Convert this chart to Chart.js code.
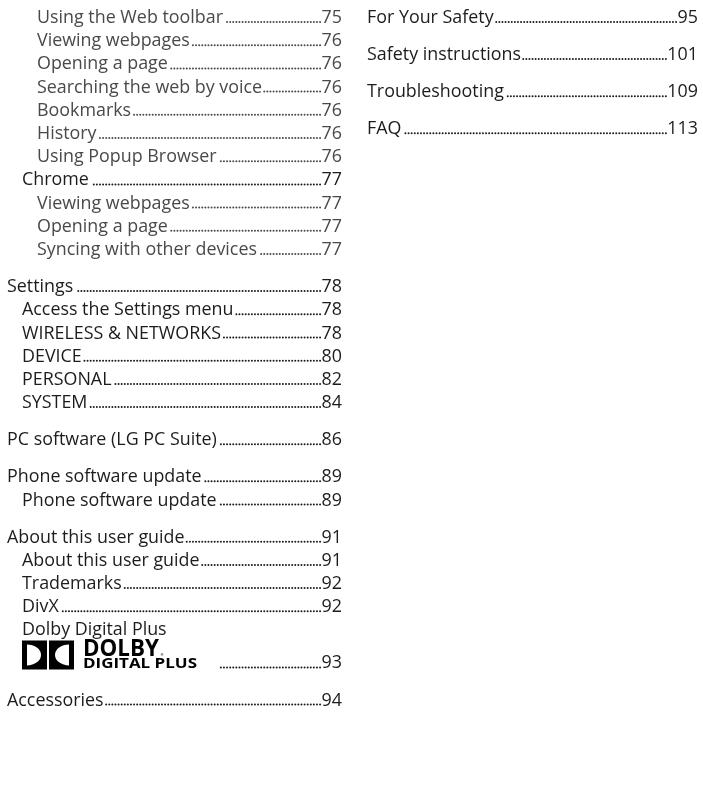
<!DOCTYPE html>
<html>
<head>
<meta charset="utf-8">
<script src="https://cdn.jsdelivr.net/npm/chart.js@4.4.0/dist/chart.umd.min.js"></script>
<style>
    html, body { margin: 0; background: #fff; }
    #toc-wrap { width: 703px; height: 795px; }
</style>
</head>
<body>
<div id="toc-wrap"><canvas id="toc"></canvas></div>
<script>
// left column of the contents page (level 0 = chapter, 1 = section, 2 = sub-section)
const leftTitles = [
    'Using the Web toolbar', 'Viewing webpages', 'Opening a page', 'Searching the web by voice',
    'Bookmarks', 'History', 'Using Popup Browser', 'Chrome', 'Viewing webpages', 'Opening a page',
    'Syncing with other devices', 'Settings', 'Access the Settings menu', 'WIRELESS & NETWORKS',
    'DEVICE', 'PERSONAL', 'SYSTEM', 'PC software (LG PC Suite)', 'Phone software update',
    'Phone software update', 'About this user guide', 'About this user guide', 'Trademarks',
    'DivX', 'Dolby Digital Plus', null, 'Accessories'
];
const leftPages = [75, 76, 76, 76, 76, 76, 76, 77, 77, 77, 77, 78, 78, 78, 80, 82, 84, 86, 89, 89, 91, 91, 92, 92, null, 93, 94];
const leftLevels = [2, 2, 2, 2, 2, 2, 2, 1, 2, 2, 2, 0, 1, 1, 1, 1, 1, 0, 0, 1, 0, 1, 1, 1, 1, 1, 0];

// right column
const rightTitles = ['For Your Safety', 'Safety instructions', 'Troubleshooting', 'FAQ'];
const rightPages = [95, 101, 109, 113];
const rightLevels = [0, 0, 0, 0];

// text of the logo line (the null title above)
const logoWords = ['DOLBY', 'DIGITAL PLUS'];

// line positions: one unit per line, chapters get extra space, the logo line is taller
function linePositions(titles, levels) {
    const out = [];
    let y = 0;
    titles.forEach((t, i) => {
        if (i > 0) {
            y += 1;
            if (levels[i] === 0) y += 0.6;
            if (t === null) y += 0.42;
        }
        out.push(y);
    });
    return out;
}

const leftY = linePositions(leftTitles, leftLevels);
const rightY = linePositions(rightTitles, rightLevels);

const LINE = 23.2;        // px per line unit
const COL = 360;          // px per column unit
const indent = [0, 15, 30];
const colWidth = [335, 331];
const dark = '#1e1b1c';
const grey = '#4a4849';
const FONT = '19px "Open Sans"';

let sx = 1;

const tocText = {
    id: 'tocText',
    afterDatasetsDraw(chart) {
        const ctx = chart.ctx;
        ctx.save();
        ctx.font = FONT;
        sx = 186 / ctx.measureText('Using the Web toolbar').width;
        chart.data.datasets.forEach((ds, di) => {
            const meta = chart.getDatasetMeta(di);
            meta.data.forEach((el, i) => {
                const title = ds.titles[i];
                const page = ds.pages[i];
                const lvl = ds.levels[i];
                const x = el.x + indent[lvl];
                const y = el.y;
                const right = el.x + colWidth[di];
                const color = lvl === 2 ? grey : dark;
                ctx.fillStyle = color;
                let textEnd;
                if (title === null) {
                    textEnd = drawLogo(ctx, x, y + 1);
                } else {
                    drawScaled(ctx, title, x, y, FONT, sx);
                    ctx.font = FONT;
                    textEnd = x + ctx.measureText(title).width * sx;
                }
                if (page === null) return;
                ctx.fillStyle = color;
                ctx.font = FONT;
                const ps = String(page);
                const pw = ctx.measureText(ps).width * sx;
                drawScaled(ctx, ps, right - pw, y, FONT, sx);
                // dot leaders
                const pitch = 3.1;
                const end = right - pw - 1.5;
                const start = textEnd + 2;
                const n = Math.floor((end - start) / pitch);
                for (let k = 0; k <= n; k++) {
                    const dx = end - k * pitch;
                    ctx.beginPath();
                    ctx.arc(dx, y - 1.0, 1.0, 0, Math.PI * 2);
                    ctx.fill();
                }
            });
        });
        ctx.restore();
    }
};

function drawScaled(ctx, text, x, y, font, scale) {
    ctx.save();
    ctx.font = font;
    ctx.translate(x, y);
    ctx.scale(scale, 1);
    ctx.textBaseline = 'alphabetic';
    ctx.fillText(text, 0, 0);
    ctx.restore();
}

function fitText(ctx, text, x, y, font, width) {
    ctx.font = font;
    const s = width / ctx.measureText(text).width;
    drawScaled(ctx, text, x, y, font, s);
}

function drawLogo(ctx, x, base) {
    const h = 29, w = 25, gap = 2;
    const top = base - h;
    const cy = top + h / 2;
    ctx.fillStyle = '#000';
    // left half: block with a half-round counter opening to the right
    ctx.beginPath();
    ctx.rect(x, top, w, h);
    ctx.moveTo(x + 5, top + 4);
    ctx.ellipse(x + 5, cy, 14, h / 2 - 4, 0, -Math.PI / 2, Math.PI / 2, false);
    ctx.closePath();
    ctx.fill('evenodd');
    // right half (mirrored)
    const rx = x + w + gap;
    ctx.beginPath();
    ctx.rect(rx, top, w, h);
    ctx.moveTo(rx + w - 5, top + 4);
    ctx.ellipse(rx + w - 5, cy, 14, h / 2 - 4, 0, -Math.PI / 2, Math.PI / 2, true);
    ctx.closePath();
    ctx.fill('evenodd');
    // words
    const tx = x + 61;
    fitText(ctx, logoWords[0], tx, base - 13, 'bold 23px "Open Sans"', 76);
    fitText(ctx, logoWords[1], tx, base - 1, 'bold 15px "Open Sans"', 114);
    ctx.fillStyle = '#999';
    ctx.beginPath();
    ctx.arc(tx + 79, base - 15, 1.3, 0, Math.PI * 2);
    ctx.fill();
    return tx + 114 + 20;
}

function points(col, ys) {
    return ys.map(y => ({x: col, y: y}));
}

const xMin = -7 / COL;
const yMin = -23 / LINE;

new Chart(document.getElementById('toc'), {
    type: 'scatter',
    data: {
        datasets: [
            {data: points(0, leftY), titles: leftTitles, pages: leftPages, levels: leftLevels, pointRadius: 0},
            {data: points(1, rightY), titles: rightTitles, pages: rightPages, levels: rightLevels, pointRadius: 0}
        ]
    },
    options: {
        responsive: true,
        maintainAspectRatio: false,
        animation: false,
        events: [],
        layout: {padding: 0},
        plugins: {legend: {display: false}, tooltip: {enabled: false}},
        scales: {
            x: {type: 'linear', display: false, min: xMin, max: xMin + 703 / COL},
            y: {type: 'linear', display: false, reverse: true, min: yMin, max: yMin + 795 / LINE}
        }
    },
    plugins: [tocText]
});
</script>
</body>
</html>
